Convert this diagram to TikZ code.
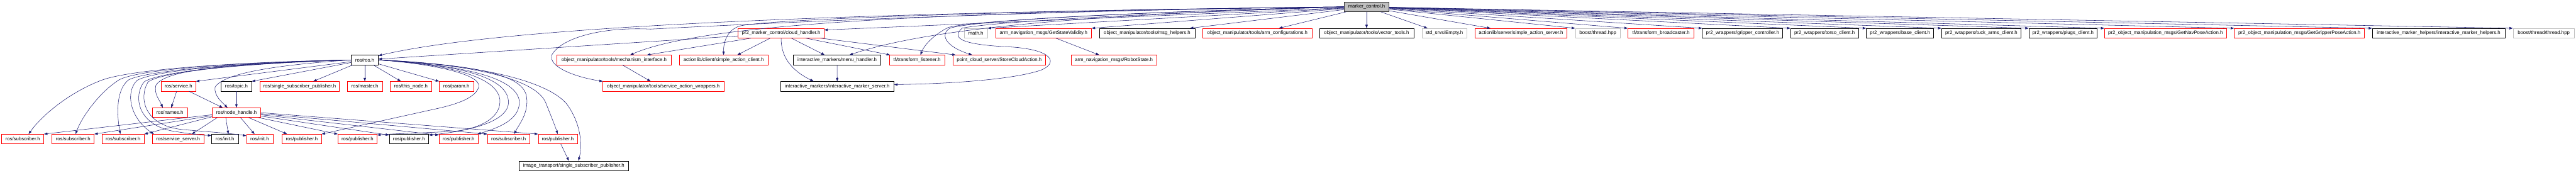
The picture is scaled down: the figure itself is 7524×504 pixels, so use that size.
\documentclass[tikz,border=0pt]{standalone}
\usepackage{fontspec}
\setmainfont{Liberation Sans}
\usetikzlibrary{arrows.meta}
\definecolor{edgec}{HTML}{191970}
\definecolor{redb}{HTML}{FF0000}
\definecolor{greyb}{HTML}{BFBFBF}
\begin{document}
\begin{tikzpicture}[x=1pt,y=-1pt,
  box/.style={draw,line width=1pt,inner sep=0pt,minimum height=28pt,fill=white,font=\fontsize{14.3}{16}\selectfont},
  trunc/.style={box,draw=redb},
  plain/.style={box,draw=black},
  sys/.style={box,draw=greyb},
  rootbox/.style={box,draw=black!80,fill=greyb},
  dep/.style={draw=edgec,line width=1pt,-{Triangle[length=10pt,width=7pt]}}]
\useasboundingbox (0,0) rectangle (7524,504);
% row 0
\node[rootbox,minimum width=131pt] (root) at (3991.5,20) {marker\_control.h};
% row 1
\node[trunc,minimum width=251pt] (cloud) at (2281.5,97) {pr2\_marker\_control/cloud\_handler.h};
\node[sys,minimum width=68pt] (math) at (2850,97) {math.h};
\node[trunc,minimum width=280pt] (gsv) at (3048,97) {arm\_navigation\_msgs/GetStateValidity.h};
\node[plain,minimum width=279pt] (msgh) at (3350.5,97) {object\_manipulator/tools/msg\_helpers.h};
\node[trunc,minimum width=319pt] (armc) at (3672.5,97) {object\_manipulator/tools/arm\_configurations.h};
\node[plain,minimum width=275pt] (vect) at (3991.5,97) {object\_manipulator/tools/vector\_tools.h};
\node[sys,minimum width=131pt] (empty) at (4218.5,97) {std\_srvs/Empty.h};
\node[trunc,minimum width=269pt] (sas) at (4442.5,97) {actionlib/server/simple\_action\_server.h};
\node[sys,minimum width=132pt] (bth) at (4667,97) {boost/thread.hpp};
\node[trunc,minimum width=193pt] (tfb) at (4851.5,97) {tf/transform\_broadcaster.h};
\node[plain,minimum width=235pt] (grip) at (5089.5,97) {pr2\_wrappers/gripper\_controller.h};
\node[plain,minimum width=198pt] (torso) at (5329,97) {pr2\_wrappers/torso\_client.h};
\node[plain,minimum width=197pt] (base) at (5549.5,97) {pr2\_wrappers/base\_client.h};
\node[plain,minimum width=232pt] (tuck) at (5787,97) {pr2\_wrappers/tuck\_arms\_client.h};
\node[plain,minimum width=199pt] (plugs) at (6025.5,97) {pr2\_wrappers/plugs\_client.h};
\node[trunc,minimum width=356pt] (nav) at (6325,97) {pr2\_object\_manipulation\_msgs/GetNavPoseAction.h};
\node[trunc,minimum width=380pt] (gpa) at (6716,97) {pr2\_object\_manipulation\_msgs/GetGripperPoseAction.h};
\node[plain,minimum width=387pt] (imh) at (7122.5,97) {interactive\_marker\_helpers/interactive\_marker\_helpers.h};
\node[sys,minimum width=179pt] (btt) at (7429.5,97) {boost/thread/thread.hpp};
% row 2
\node[plain,minimum width=79pt] (ros) at (1065.5,175) {ros/ros.h};
\node[trunc,minimum width=335pt] (mech) at (1793.5,175) {object\_manipulator/tools/mechanism\_interface.h};
\node[trunc,minimum width=259pt] (sac) at (2113.5,175) {actionlib/client/simple\_action\_client.h};
\node[plain,minimum width=256pt] (menu) at (2445,175) {interactive\_markers/menu\_handler.h};
\node[trunc,minimum width=163pt] (tfl) at (2678.5,175) {tf/transform\_listener.h};
\node[trunc,minimum width=269pt] (pcs) at (2918.5,175) {point\_cloud\_server/StoreCloudAction.h};
\node[trunc,minimum width=251pt] (rstate) at (3253.5,175) {arm\_navigation\_msgs/RobotState.h};
% row 3
\node[trunc,minimum width=102pt] (service) at (521,252) {ros/service.h};
\node[plain,minimum width=89pt] (topic) at (690.5,252) {ros/topic.h};
\node[trunc,minimum width=232pt] (ssp) at (875,252) {ros/single\_subscriber\_publisher.h};
\node[trunc,minimum width=103pt] (master) at (1065.5,252) {ros/master.h};
\node[trunc,minimum width=120pt] (thisnode) at (1200,252) {ros/this\_node.h};
\node[trunc,minimum width=100pt] (param) at (1333,252) {ros/param.h};
\node[trunc,minimum width=353pt] (saw) at (1937.5,252) {object\_manipulator/tools/service\_action\_wrappers.h};
\node[plain,minimum width=331pt] (ims) at (2445.5,252) {interactive\_markers/interactive\_marker\_server.h};
% row 3b
\node[trunc,minimum width=102pt] (names) at (496,329) {ros/names.h};
\node[trunc,minimum width=141pt] (nh) at (690.5,329) {ros/node\_handle.h};
% row 4
\node[trunc,minimum width=123pt] (sub1) at (66.5,406) {ros/subscriber.h};
\node[trunc,minimum width=123pt] (sub2) at (213.5,406) {ros/subscriber.h};
\node[trunc,minimum width=123pt] (sub3) at (359.5,406) {ros/subscriber.h};
\node[trunc,minimum width=150pt] (ssrv) at (520,406) {ros/service\_server.h};
\node[plain,minimum width=78pt] (init1) at (657,406) {ros/init.h};
\node[trunc,minimum width=77pt] (init2) at (758.5,406) {ros/init.h};
\node[trunc,minimum width=115pt] (pub1) at (881.5,406) {ros/publisher.h};
\node[trunc,minimum width=114pt] (pub2) at (1044,406) {ros/publisher.h};
\node[plain,minimum width=115pt] (pub3) at (1194.5,406) {ros/publisher.h};
\node[trunc,minimum width=115pt] (pub4) at (1339.5,406) {ros/publisher.h};
\node[trunc,minimum width=123pt] (sub4) at (1485.5,406) {ros/subscriber.h};
\node[trunc,minimum width=114pt] (pub5) at (1629,406) {ros/publisher.h};
% row 5
\node[plain,minimum width=319pt] (itssp) at (1675.5,484) {image\_transport/single\_subscriber\_publisher.h};

% ---- edges from root
\draw[dep] (root) -- ([yshift=-5pt]cloud.north east);
\draw[dep] (root) -- (math.north east);
\draw[dep] (root) -- (gsv.north east);
\draw[dep] (root) -- ([xshift=-15pt]msgh.north east);
\draw[dep] (root) -- ([xshift=-97pt]armc.north east);
\draw[dep] (root) -- (vect);
\draw[dep] (root) -- ([xshift=17pt]empty.north west);
\draw[dep] (root) -- ([xshift=46pt]sas.north west);
\draw[dep] (root) -- (bth.north west);
\draw[dep] (root) -- (tfb.north west);
\draw[dep] (root) -- (grip.north west);
\draw[dep] (root) -- (torso.north west);
\draw[dep] (root) -- (base.north west);
\draw[dep] (root) -- (tuck.north west);
\draw[dep] (root) -- (plugs.north west);
\draw[dep] (root) -- (nav.north west);
\draw[dep] (root) -- (gpa.north west);
\draw[dep] (root) -- (imh.north west);
\draw[dep] (root) -- (btt.north west);
\draw[dep] (root.west) .. controls (2600,35) and (1500,70) .. ([yshift=-2pt]ros.north east);
\draw[dep] (root.west) .. controls (2700,35) and (2050,70) .. ([xshift=-121pt]mech.north east);
\draw[dep] (root.west) .. controls (3000,30) and (2150,72) .. (1900,85) .. controls (1760,78) and (1640,110) .. (1612,160) .. controls (1600,195) and (1680,225) .. (saw.north west);
\draw[dep] (root.west) .. controls (3000,30) and (2250,55) .. (2160,76) .. controls (2125,88) and (2113,120) .. (sac.north);
\draw[dep] (root.west) .. controls (3300,40) and (2750,70) .. ([xshift=36pt]menu.north);
\draw[dep] (root.west) .. controls (3300,35) and (2850,60) .. (2770,80) .. controls (2730,100) and (2700,130) .. ([xshift=10pt]tfl.north);
\draw[dep] (root.west) .. controls (3300,35) and (2850,60) .. (2775,82) .. controls (2745,100) and (2760,135) .. ([xshift=56pt]pcs.north west);
\draw[dep] (root.west) .. controls (3300,40) and (2900,65) .. (2810,82) .. controls (2780,110) and (2800,130) .. (2950,137) .. controls (3080,145) and (3090,185) .. (3040,205) .. controls (2950,235) and (2750,245) .. ([yshift=5pt]ims.east);
% ---- cloud handler
\draw[dep] (cloud) -- (ros);
\draw[dep] ([xshift=-88pt]cloud.south) -- ([xshift=-72pt]mech.north east);
\draw[dep] ([xshift=-32pt]cloud.south) -- ([xshift=40pt]sac.north);
\draw[dep] (cloud.south) .. controls (2281,165) and (2310,205) .. ([xshift=97pt]ims.north west);
\draw[dep] ([xshift=30pt]cloud.south) -- ([xshift=92pt]menu.north west);
\draw[dep] ([xshift=72pt]cloud.south) -- ([xshift=3pt]tfl.north west);
\draw[dep] ([xshift=115pt]cloud.south) -- ([xshift=8pt]pcs.north west);
\draw[dep] (menu) -- (ims);
\draw[dep] ([xshift=36pt]gsv.south) -- ([xshift=83pt]rstate.north west);
\draw[dep] ([xshift=24pt]mech.south) -- ([xshift=140pt]saw.north west);
% ---- ros.h
\draw[dep] (ros) -- (service.north east);
\draw[dep] (ros) -- (topic.north east);
\draw[dep] (ros) -- ([xshift=40pt]ssp.north);
\draw[dep] (ros) -- (master);
\draw[dep] (ros) -- ([xshift=-29pt]thisnode.north);
\draw[dep] (ros) -- (param.north west);
\draw[dep] (ros.west) .. controls (800,190) and (650,215) .. (628,255) .. controls (625,280) and (650,300) .. ([xshift=45pt]nh.north west);
\draw[dep] (ros.west) .. controls (700,185) and (480,200) .. (455,250) .. controls (450,275) and (465,290) .. ([xshift=31pt]names.north west);
\draw[dep] (ros.west) .. controls (650,182) and (380,205) .. (300,233) .. controls (200,270) and (120,340) .. ([xshift=17pt]sub1.north);
\draw[dep] (ros.west) .. controls (650,183) and (400,205) .. (348,233) .. controls (290,270) and (240,340) .. ([xshift=7pt]sub2.north);
\draw[dep] (ros.west) .. controls (650,184) and (420,210) .. (376,233) .. controls (340,260) and (340,330) .. ([xshift=-8pt]sub3.north);
\draw[dep] (ros.west) .. controls (650,185) and (440,210) .. (400,235) .. controls (365,270) and (380,345) .. ([xshift=5pt]ssrv.north west);
\draw[dep] (ros.west) .. controls (650,186) and (450,215) .. (420,240) .. controls (390,280) and (400,360) .. (500,382) .. controls (560,392) and (590,395) .. ([yshift=-4pt]init1.north west);
\draw[dep] (ros.west) .. controls (650,187) and (460,215) .. (432,240) .. controls (405,285) and (420,365) .. (530,378) .. controls (620,386) and (680,390) .. ([yshift=-5pt]init2.north west);
\draw[dep] (ros.east) .. controls (1250,185) and (1410,215) .. (1398,255) .. controls (1385,295) and (1300,312) .. (1254,322) -- (pub1.north east);
\draw[dep] (ros.east) .. controls (1300,188) and (1450,220) .. (1460,290) .. controls (1465,345) and (1400,375) .. (1330,383) .. controls (1250,388) and (1150,390) .. ([yshift=-3pt]pub2.north east);
\draw[dep] (ros.east) .. controls (1320,188) and (1480,220) .. (1485,295) .. controls (1490,360) and (1350,385) .. ([yshift=-3pt]pub3.north east);
\draw[dep] (ros.east) .. controls (1350,190) and (1500,225) .. (1516,290) .. controls (1525,350) and (1450,375) .. ([xshift=-3pt]pub4.north east);
\draw[dep] (ros.east) .. controls (1400,190) and (1530,220) .. (1538,283) .. controls (1545,330) and (1515,365) .. ([xshift=16pt]sub4.north);
\draw[dep] (ros.east) .. controls (1420,190) and (1570,240) .. (1594,300) .. controls (1612,345) and (1622,370) .. (pub5.north);
\draw[dep] (ros.east) .. controls (1450,190) and (1620,250) .. (1660,310) .. controls (1700,370) and (1700,430) .. ([xshift=14pt]itssp.north);
% ---- node_handle.h
\draw[dep] ([yshift=-6pt]nh.west) -- (sub1.north east);
\draw[dep] ([yshift=-9pt]nh.west) -- (sub2.north east);
\draw[dep] ([yshift=-12pt]nh.west) -- (sub3.north east);
\draw[dep] ([xshift=15pt]nh.south west) -- ([xshift=-35pt]ssrv.north east);
\draw[dep] ([xshift=-31pt]nh.south) -- ([xshift=10pt]init1.north);
\draw[dep] ([xshift=12pt]nh.south) -- ([xshift=-15pt]init2.north);
\draw[dep] ([xshift=36pt]nh.south) -- ([xshift=15pt]pub1.north west);
\draw[dep] ([xshift=-6pt]nh.south east) -- (pub2.north west);
\draw[dep] ([yshift=-10pt]nh.east) -- ([yshift=-3pt]pub3.north west);
\draw[dep] ([yshift=-6pt]nh.east) -- ([yshift=-3pt]pub4.north west);
\draw[dep] ([yshift=-3pt]nh.east) -- (sub4.north west);
\draw[dep] (nh.east) -- (pub5.north west);
% ---- others
\draw[dep] ([xshift=-5pt]service.south) -- ([xshift=4pt]names.north);
\draw[dep] ([xshift=31pt]service.south) -- ([xshift=31pt]nh.north west);
\draw[dep] (topic) -- (nh);
\draw[dep] ([xshift=9pt]pub5.south) -- ([xshift=-14pt]itssp.north);
\end{tikzpicture}
\end{document}
